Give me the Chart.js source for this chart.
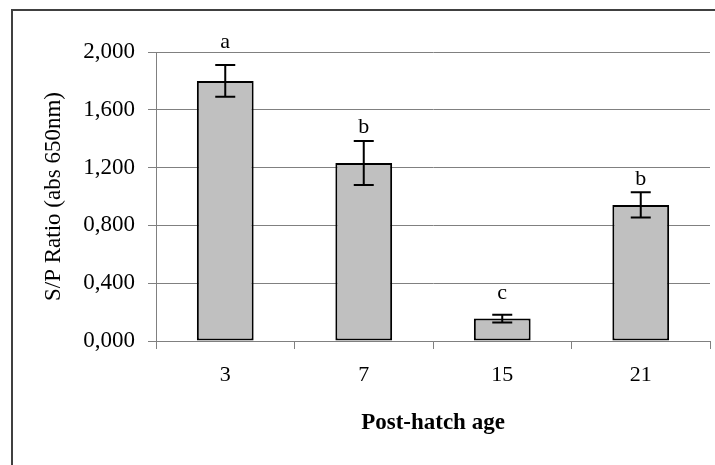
<!DOCTYPE html>
<html>
<head>
<meta charset="utf-8">
<script src="https://cdn.jsdelivr.net/npm/chart.js@4"></script>
<style>
  body { margin: 0; background: #ffffff; }
  canvas { display: block; }
</style>
</head>
<body>
<canvas id="sp-ratio" width="715" height="465"></canvas>
<script>
// Post-hatch age groups and S/P ratio (mean, error)
const ages = ["3", "7", "15", "21"];
const sp_means = [1.800, 1.232, 0.155, 0.942];
const sp_errors = [0.110, 0.152, 0.027, 0.088];
const letters = ["a", "b", "c", "b"];
const letter_at = [2.025, 1.438, 0.292, 1.079]; // baseline of each letter, in axis units

const serif = "'Liberation Serif', 'Times New Roman', serif";

// Error bars and significance letters on top of the bars
const errorBars = {
  id: "errorBars",
  afterDatasetsDraw(chart) {
    const ctx = chart.ctx;
    const y = chart.scales.y;
    const meta = chart.getDatasetMeta(0);
    ctx.save();
    ctx.strokeStyle = "#000000";
    ctx.lineWidth = 2;
    meta.data.forEach((bar, i) => {
      const x = bar.x;
      const top = y.getPixelForValue(sp_means[i] + sp_errors[i]);
      const bottom = y.getPixelForValue(sp_means[i] - sp_errors[i]);
      ctx.beginPath();
      ctx.moveTo(x, top); ctx.lineTo(x, bottom);
      ctx.moveTo(x - 10, top); ctx.lineTo(x + 10, top);
      ctx.moveTo(x - 10, bottom); ctx.lineTo(x + 10, bottom);
      ctx.stroke();

      ctx.fillStyle = "#000000";
      ctx.font = "22px " + serif;
      ctx.textAlign = "center";
      ctx.textBaseline = "alphabetic";
      ctx.fillText(letters[i], x, y.getPixelForValue(letter_at[i]));
    });
    ctx.restore();
  }
};

// Frame around the picture (only top and left are visible)
const frame = {
  id: "frame",
  afterDraw(chart) {
    const ctx = chart.ctx;
    ctx.save();
    ctx.strokeStyle = "#404040";
    ctx.lineWidth = 2;
    ctx.beginPath();
    ctx.moveTo(12, 465);
    ctx.lineTo(12, 10);
    ctx.lineTo(715, 10);
    ctx.stroke();
    ctx.restore();
  }
};

new Chart(document.getElementById("sp-ratio"), {
  type: "bar",
  data: {
    labels: ages,
    datasets: [{
      data: sp_means,
      backgroundColor: "#c0c0c0",
      borderColor: "#000000",
      borderWidth: 2,
      borderSkipped: false,
      barPercentage: 0.41,
      categoryPercentage: 1
    }]
  },
  options: {
    responsive: false,
    animation: false,
    layout: { padding: { left: 0, top: 52, right: 5, bottom: 0 } },
    plugins: {
      legend: { display: false },
      tooltip: { enabled: false }
    },
    scales: {
      x: {
        offset: true,
        grid: {
          offset: true,
          drawOnChartArea: false,
          drawTicks: true,
          tickLength: 8,
          color: "#808080"
        },
        border: { color: "#808080", width: 1 },
        ticks: {
          color: "#000000",
          padding: 13,
          font: { family: serif, size: 22 }
        },
        title: {
          display: true,
          text: "Post-hatch age",
          color: "#000000",
          font: { family: serif, size: 23, weight: "bold" },
          padding: { top: 0, bottom: 28 }
        },
        afterFit: scale => { scale.height = 124; }
      },
      y: {
        min: 0,
        max: 2,
        grid: {
          color: "#808080",
          lineWidth: 1,
          tickLength: 8
        },
        border: { color: "#808080", width: 1 },
        ticks: {
          stepSize: 0.4,
          color: "#000000",
          padding: 13,
          font: { family: serif, size: 23 },
          callback: value => value.toFixed(3).replace(".", ",")
        },
        title: {
          display: true,
          text: "S/P Ratio (abs 650nm)",
          color: "#000000",
          font: { family: serif, size: 23 },
          padding: { top: 40, bottom: 0 }
        },
        afterFit: scale => { scale.width = 156; }
      }
    }
  },
  plugins: [errorBars, frame]
});
</script>
</body>
</html>
